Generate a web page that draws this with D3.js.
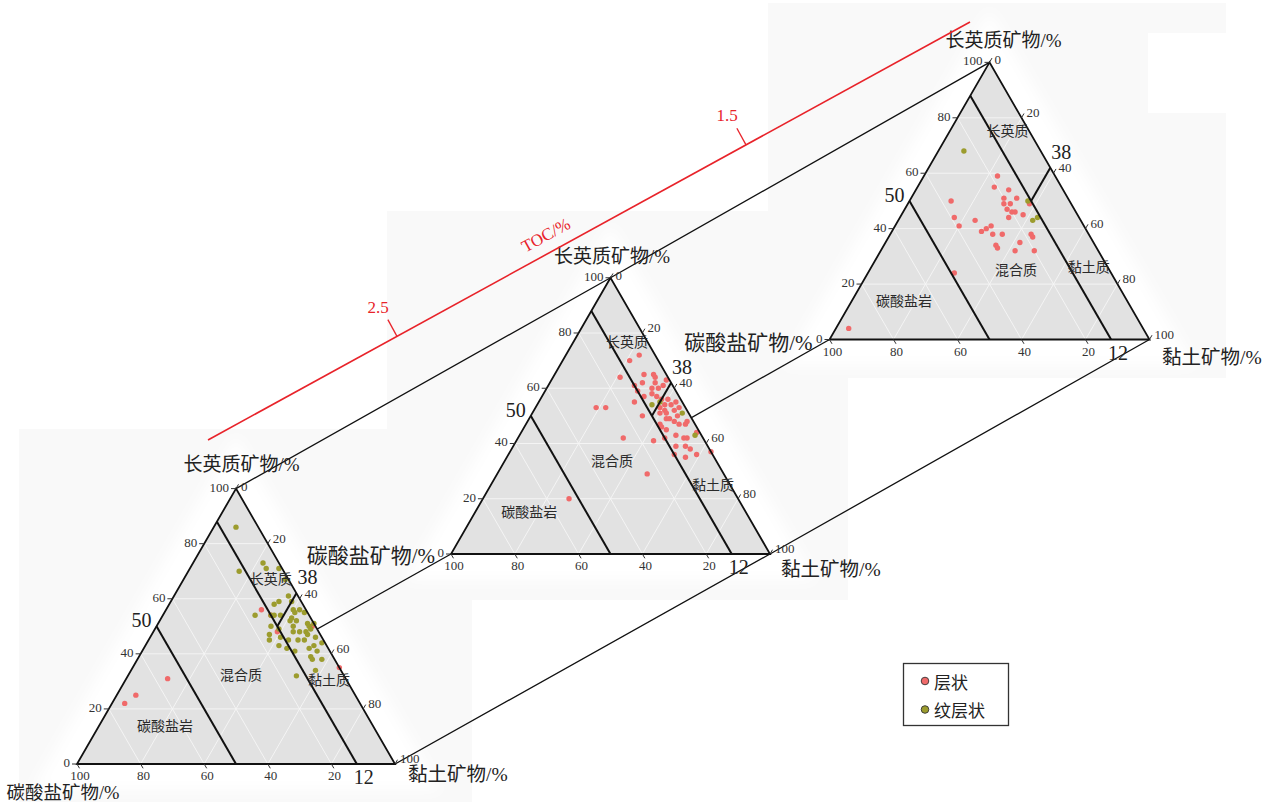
<!DOCTYPE html>
<html>
<head>
<meta charset="utf-8">
<script src="https://cdn.jsdelivr.net/npm/d3@7"></script>
<style>
  body { margin: 0; background: #fff; }
  svg { display: block; }
</style>
</head>
<body>
<svg id="chart" width="1263" height="802"></svg>
<script>
// ---- data: each sample is [长英质矿物, 碳酸盐矿物, 黏土矿物] in % ----
const seriesNames = ["层状", "纹层状"];
const axisTitles = ["长英质矿物/%", "碳酸盐矿物/%", "黏土矿物/%"];
const tickValues = [0, 20, 40, 60, 80, 100];
const regionNames = ["长英质", "混合质", "黏土质", "碳酸盐岩"];
const carbonateLimits = [50, 12];
const clayLimit = 38;
const tocTicks = [2.5, 1.5];
const tocTitle = "TOC/%";

// TOC > 2.5
const highTocLayered = [
  [56,14,30],[54,12,34],[48,13,39],[50,1,49],[35,0,65],[31,56,13],[25,69,6],[22,74,4]
];
const highTocLaminated = [
  [86,7,7],[70,14,16],[73,5,22],[71,5,24],[71,1,28],[67,1,32],[61,3,36],[59,7,34],[58,9,33],
  [59,3,38],[54,17,29],[54,12,34],[54,11,35],[54,9,37],[56,4,40],[55,4,41],[53,6,41],[56,2,42],
  [55,1,44],[52,5,43],[52,7,41],[50,14,36],[49,12,39],[50,7,43],[51,2,47],[50,2,48],[51,0,49],
  [47,16,37],[48,8,44],[48,6,46],[48,4,48],[49,2,49],[46,2,52],[47,4,49],[46,13,41],[45,11,44],
  [45,17,38],[45,8,47],[45,6,49],[43,15,42],[42,13,45],[42,6,52],[43,4,53],[44,1,55],[41,4,55],
  [41,11,48],[39,7,54],[38,4,58],[38,7,55],[34,8,58],[32,15,53]
];

// 1.5 – 2.5
const midTocLayered = [
  [72,5,23],[70,9,21],[64,15,21],[65,7,28],[65,4,31],[64,4,32],[62,9,29],[62,5,33],[61,12,27],
  [63,1,36],[59,12,29],[58,8,34],[60,5,35],[61,3,36],[55,15,30],[57,11,32],[57,7,36],[56,6,38],
  [56,4,40],[55,2,43],[54,4,42],[53,8,39],[52,7,41],[52,4,44],[53,2,45],[50,15,35],[51,9,40],
  [49,8,43],[49,7,44],[50,4,46],[47,11,42],[48,6,46],[47,5,48],[48,2,50],[47,3,50],[53,28,19],
  [53,25,22],[42,25,33],[41,16,43],[45,10,45],[43,8,49],[42,6,52],[42,5,53],[44,1,55],[39,10,51],
  [39,7,54],[38,6,56],[36,12,52],[35,9,56],[36,5,59],[37,0,63],[29,24,47],[20,53,27],[54,6,40],
  [51,7,42],[46,11,43],[42,12,46],[60,7,33]
];
const midTocLaminated = [
  [54,10,36],[55,7,38],[51,2,47],[43,2,55]
];

// TOC < 1.5
const lowTocLayered = [
  [59,18,23],[55,21,24],[54,17,29],[50,37,13],[51,20,29],[49,19,32],[51,16,33],[49,21,30],
  [47,21,32],[46,20,34],[46,19,35],[49,13,38],[45,17,38],[44,39,17],[43,33,24],[44,22,34],
  [41,39,20],[41,29,30],[40,31,29],[39,33,28],[38,30,32],[38,27,35],[38,18,44],[37,18,45],
  [35,23,42],[34,31,35],[33,31,36],[32,26,42],[32,20,48],[24,49,27],[4,92,4]
];
const lowTocLaminated = [
  [68,24,8],[50,13,37],[43,15,42],[44,13,43]
];

// ---- layout ----
const colors = ["#f06a6a", "#9c9c2e"];
const serif = "'Liberation Serif', 'Times New Roman', serif";
const cjk = "'Liberation Serif', 'Noto Sans CJK SC', sans-serif";

const plots = [
  { x0: 77,    y0: 764,   s: 318, series: [highTocLayered, highTocLaminated],
    panel: [19, 429, 453, 373],
    title: [5.5, -17.6], carbLabel: { dx: -14, dy: 35, anchor: "middle", size: 18.5 }, clayLabel: [13, 17],
    regions: [[67.5, 27.2], [32.7, 35.2], [30.9, 63.8], [14.2, 20.6]] },
  { x0: 451,   y0: 554,   s: 319, series: [midTocLayered, midTocLaminated],
    panel: [387, 211, 461, 389],
    title: [1.5, -15], carbLabel: { dx: -16, dy: 9, anchor: "end", size: 21 }, clayLabel: [11, 22],
    regions: [[77.1, 16.6], [34, 33.5], [25.3, 69.5], [15.6, 16.7]] },
  { x0: 829.5, y0: 339.5, s: 320, series: [lowTocLayered, lowTocLaminated],
    panel: [768, 3, 458, 375],
    title: [14, -15], carbLabel: { dx: -17, dy: 10, anchor: "end", size: 21 }, clayLabel: [12.5, 24.5],
    regions: [[75.5, 17.9], [25.6, 45.5], [26.4, 67.8], [14.4, 16.1]] }
];
const titleSizes = [19, 21, 19.5];

const svg = d3.select("#chart");
const defs = svg.append("defs");
defs.append("filter").attr("id", "halo").attr("x", "-30%").attr("y", "-30%")
  .attr("width", "160%").attr("height", "160%")
  .append("feGaussianBlur").attr("stdDeviation", 7);

// ternary projection built on linear scales
plots.forEach(p => {
  p.h = p.s * Math.sqrt(3) / 2;
  p.fy = d3.scaleLinear().domain([0, 100]).range([p.y0, p.y0 - p.h]);
  p.cx = d3.scaleLinear().domain([0, 100]).range([p.x0, p.x0 + p.s]);
  p.pt = d => [p.cx(d[2] + d[0] / 2), p.fy(d[0])];
  p.apex = p.pt([100, 0, 0]);
  p.bl = p.pt([0, 100, 0]);
  p.br = p.pt([0, 0, 100]);
});

// background panels
const gPanels = svg.append("g");
plots.forEach(p => {
  gPanels.append("rect").attr("x", p.panel[0]).attr("y", p.panel[1])
    .attr("width", p.panel[2]).attr("height", p.panel[3]).attr("fill", "#f9f9f9");
});
gPanels.append("rect").attr("x", 1148).attr("y", 33).attr("width", 78).attr("height", 80).attr("fill", "#fff");

// soft white glow around each diagram
plots.forEach(p => {
  const c = [(p.apex[0] + p.bl[0] + p.br[0]) / 3, (p.apex[1] + p.bl[1] + p.br[1]) / 3];
  const r = p.s / (2 * Math.sqrt(3));
  const k = (r + 26) / r;
  const pts = [p.apex, p.bl, p.br].map(q => [c[0] + (q[0] - c[0]) * k, c[1] + (q[1] - c[1]) * k]);
  svg.append("polygon").attr("points", pts.map(q => q.join(",")).join(" "))
    .attr("fill", "#fff").attr("filter", "url(#halo)");
});

// links between corresponding corners of successive diagrams
const gLinks = svg.append("g").attr("stroke", "#111").attr("stroke-width", 1.3).attr("fill", "none");
const line = d3.line();
gLinks.append("path").attr("d", line([plots[0].apex, plots[1].apex, plots[2].apex]));
gLinks.append("path").attr("d", line([plots[0].br, plots[1].br, plots[2].br]));
gLinks.append("path").attr("d", line([plots[0].bl, plots[1].bl]));
gLinks.append("path").attr("d", line([plots[1].bl, plots[2].bl]));

// diagrams
plots.forEach(p => {
  const g = svg.append("g");
  const tri = [p.apex, p.bl, p.br];
  g.append("polygon").attr("points", tri.map(q => q.join(",")).join(" ")).attr("fill", "#e2e2e2");

  // grid
  const grid = [];
  [20, 40, 60, 80].forEach(v => {
    grid.push([[v, 100 - v, 0], [v, 0, 100 - v]]);
    grid.push([[0, 100 - v, v], [100 - v, 0, v]]);
    grid.push([[0, v, 100 - v], [100 - v, v, 0]]);
  });
  g.selectAll(".grid").data(grid).join("path").attr("class", "grid")
    .attr("d", d => line(d.map(p.pt))).attr("stroke", "#f6f6f6").attr("stroke-width", 0.9).attr("fill", "none");

  // samples
  p.series.forEach((data, i) => {
    g.append("g").selectAll("circle").data(data).join("circle")
      .attr("cx", d => p.pt(d)[0]).attr("cy", d => p.pt(d)[1])
      .attr("r", 2.7).attr("fill", colors[i]);
  });

  // lithofacies boundaries
  const bounds = carbonateLimits.map(v => [[100 - v, v, 0], [0, v, 100 - v]]);
  const carbHi = carbonateLimits[1];
  bounds.push([[100 - clayLimit, 0, clayLimit], [100 - clayLimit - carbHi, carbHi, clayLimit]]);
  g.selectAll(".bound").data(bounds).join("path").attr("class", "bound")
    .attr("d", d => line(d.map(p.pt))).attr("stroke", "#111").attr("stroke-width", 2).attr("fill", "none");

  g.append("polygon").attr("points", tri.map(q => q.join(",")).join(" "))
    .attr("fill", "none").attr("stroke", "#111").attr("stroke-width", 1.8).attr("stroke-linejoin", "miter");

  // ticks and tick labels
  const tk = g.append("g").attr("stroke", "#333").attr("stroke-width", 1);
  const lab = g.append("g").attr("font-family", serif).attr("font-size", 13).attr("fill", "#333");
  tickValues.forEach(v => {
    // left axis: 长英质
    const a = p.pt([v, 100 - v, 0]);
    tk.append("line").attr("x1", a[0]).attr("y1", a[1]).attr("x2", a[0] - 5).attr("y2", a[1]);
    lab.append("text").attr("x", a[0] - 7).attr("y", a[1] + 3).attr("text-anchor", "end").text(v);
    // right axis: 黏土
    const b = p.pt([100 - v, 0, v]);
    tk.append("line").attr("x1", b[0]).attr("y1", b[1]).attr("x2", b[0] + 2.5).attr("y2", b[1] - 4.3);
    lab.append("text").attr("x", b[0] + 5).attr("y", b[1] + (v === 0 ? 2 : -1)).text(v);
    // bottom axis: 碳酸盐
    if (v > 0) {
      const c = p.pt([0, v, 100 - v]);
      tk.append("line").attr("x1", c[0]).attr("y1", c[1]).attr("x2", c[0] + 2.5).attr("y2", c[1] + 4.3);
      lab.append("text").attr("x", c[0] + 3).attr("y", c[1] + 16).attr("text-anchor", "middle").text(v);
    }
  });

  // boundary values
  const big = g.append("g").attr("font-family", serif).attr("font-size", 20).attr("fill", "#222");
  const q50 = p.pt([100 - carbonateLimits[0], carbonateLimits[0], 0]);
  big.append("text").attr("x", q50[0] - 5).attr("y", q50[1] + 1).attr("text-anchor", "end").text(carbonateLimits[0]);
  const q12 = p.pt([0, carbonateLimits[1], 100 - carbonateLimits[1]]);
  big.append("text").attr("x", q12[0] - 3).attr("y", q12[1] + 20).text(carbonateLimits[1]);
  const q38 = p.pt([100 - clayLimit, 0, clayLimit]);
  big.append("text").attr("x", q38[0] + 1).attr("y", q38[1] - 9).text(clayLimit);

  // region names
  const rg = g.append("g").attr("font-family", "'Noto Sans CJK SC', sans-serif").attr("font-size", 14)
    .attr("fill", "#2a2a2a").attr("text-anchor", "middle").attr("dominant-baseline", "central");
  p.regions.forEach((r, i) => {
    const q = p.pt([r[0], 100 - r[0] - r[1], r[1]]);
    rg.append("text").attr("x", q[0]).attr("y", q[1]).text(regionNames[i]);
  });

  // axis titles
  const at = g.append("g").attr("font-family", cjk).attr("fill", "#222");
  at.append("text").attr("x", p.apex[0] + p.title[0]).attr("y", p.apex[1] + p.title[1])
    .attr("font-size", titleSizes[0]).attr("text-anchor", "middle").text(axisTitles[0]);
  at.append("text").attr("x", p.bl[0] + p.carbLabel.dx).attr("y", p.bl[1] + p.carbLabel.dy)
    .attr("font-size", p.carbLabel.size).attr("text-anchor", p.carbLabel.anchor).text(axisTitles[1]);
  at.append("text").attr("x", p.br[0] + p.clayLabel[0]).attr("y", p.br[1] + p.clayLabel[1])
    .attr("font-size", titleSizes[2]).text(axisTitles[2]);
});

// TOC axis
const tocStart = [208, 440], tocEnd = [970, 22];
const tocX = d3.scaleLinear().domain([2.5, 1.5]).range([397, 746]);
const tocY = d3.scaleLinear().domain([tocStart[0], tocEnd[0]]).range([tocStart[1], tocEnd[1]]);
const len = Math.hypot(tocEnd[0] - tocStart[0], tocEnd[1] - tocStart[1]);
const nx = (tocEnd[1] - tocStart[1]) / len, ny = -(tocEnd[0] - tocStart[0]) / len;
const angle = Math.atan2(tocEnd[1] - tocStart[1], tocEnd[0] - tocStart[0]) * 180 / Math.PI;
const gToc = svg.append("g").attr("stroke", "#e8232a").attr("fill", "#e8232a");
gToc.append("path").attr("d", line([tocStart, tocEnd])).attr("stroke-width", 1.6).attr("fill", "none");
tocTicks.forEach(t => {
  const x = tocX(t), y = tocY(x);
  gToc.append("line").attr("x1", x).attr("y1", y).attr("x2", x + nx * 19).attr("y2", y + ny * 19)
    .attr("stroke-width", 1.3);
  gToc.append("text").attr("x", x + nx * 33 - 3).attr("y", y + ny * 33)
    .attr("stroke", "none").attr("font-family", serif).attr("font-size", 17)
    .attr("text-anchor", "middle").attr("dominant-baseline", "central").text(t.toFixed(1));
});
{
  const x = tocX(2.05), y = tocY(x);
  const px = x + nx * 17, py = y + ny * 17;
  gToc.append("text").attr("transform", `translate(${px},${py}) rotate(${angle})`)
    .attr("stroke", "none").attr("font-family", serif).attr("font-size", 17)
    .attr("text-anchor", "middle").attr("dominant-baseline", "central").text(tocTitle);
}

// legend
const lg = svg.append("g");
lg.append("rect").attr("x", 903.5).attr("y", 663.5).attr("width", 105).attr("height", 62)
  .attr("fill", "#fff").attr("stroke", "#333").attr("stroke-width", 1.3);
seriesNames.forEach((name, i) => {
  const y = 681 + i * 28.5;
  lg.append("circle").attr("cx", 925).attr("cy", y).attr("r", 3.8)
    .attr("fill", colors[i]).attr("stroke", "#333").attr("stroke-width", 0.9);
  lg.append("text").attr("x", 934).attr("y", y).attr("dominant-baseline", "central")
    .attr("font-family", "'Noto Sans CJK SC', sans-serif").attr("font-size", 17).attr("fill", "#222").text(name);
});
</script>
</body>
</html>
